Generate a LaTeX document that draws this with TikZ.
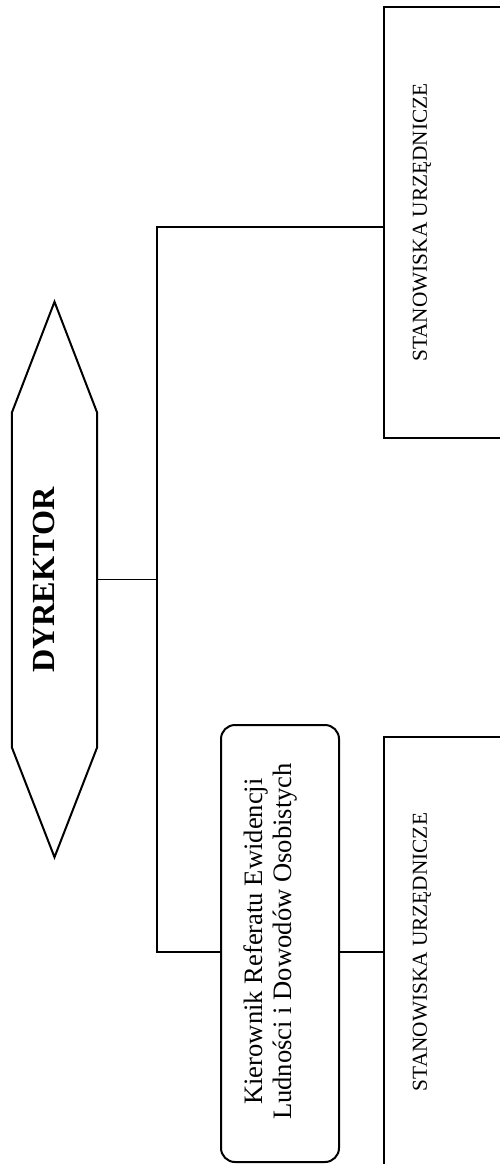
\documentclass[tikz,border=0pt]{standalone}
\usepackage{fontspec}
\setmainfont{Liberation Serif}
\usetikzlibrary{calc}

\begin{document}
\begin{tikzpicture}[
  x=1pt, y=-1pt,
  shapeline/.style={draw=black, line width=2pt},
  conn/.style={draw=black, line width=1.6pt},
  dyrshape/.style={rectangle, rotate=90, minimum width=555, minimum height=85, inner sep=0pt},
  dyrlabel/.style={rotate=90, inner sep=0pt, font=\fontsize{32.2}{36}\selectfont\bfseries},
  postbox/.style={shapeline, rectangle, rotate=90, minimum width=431, minimum height=150, inner sep=0pt},
  postlabel/.style={rotate=90, inner sep=0pt, font=\fontsize{21.3}{24}\selectfont},
  kierbox/.style={shapeline, rectangle, rounded corners=14pt, rotate=90, minimum width=437, minimum height=118, inner sep=0pt},
  kierlabel/.style={rotate=90, inner sep=0pt, align=center, font=\fontsize{26.6}{29}\selectfont}
]
\useasboundingbox (0,0) rectangle (500,1164);
\clip (0,0) rectangle (500,1164);
\fill[white] (0,0) rectangle (500,1164);

\node[dyrshape] (dyr) at (54.5,579.5) {};
\draw[shapeline] (dyr.east) -- ($(dyr.south east)+(0,111)$) -- ($(dyr.south west)+(0,-110)$)
  -- (dyr.west) -- ($(dyr.north west)+(0,-110)$) -- ($(dyr.north east)+(0,111)$) -- cycle;
\node[dyrlabel] (dyrtxt) at (43.5,580) {DYREKTOR};

\node[postbox] (urzA) at (459,222.5) {};
\node[postlabel] (urzAtxt) at ($(urzA.north)+(39,0)$) {STANOWISKA URZĘDNICZE};
\node[postbox] (urzB) at (459,952) {};
\node[postlabel] (urzBtxt) at ($(urzB.north)+(39,0)$) {STANOWISKA URZĘDNICZE};

\node[kierbox] (kier) at (280,943.5) {};
\node[kierlabel] (kiertxt) at ($(kier.center)+(-9,-2)$) {Kierownik Referatu Ewidencji\\Ludności i Dowodów Osobistych};

\coordinate (jtop) at (157,227);
\coordinate (jbot) at (157,952);
\draw[conn] (dyr.south) -- (dyr.south -| jtop);
\draw[conn] (urzA.north |- jtop) -- (jtop) -- (jbot) -- (kier.north |- jbot);
\draw[conn] (kier.south |- jbot) -- (urzB.north |- jbot);
\end{tikzpicture}
\end{document}
